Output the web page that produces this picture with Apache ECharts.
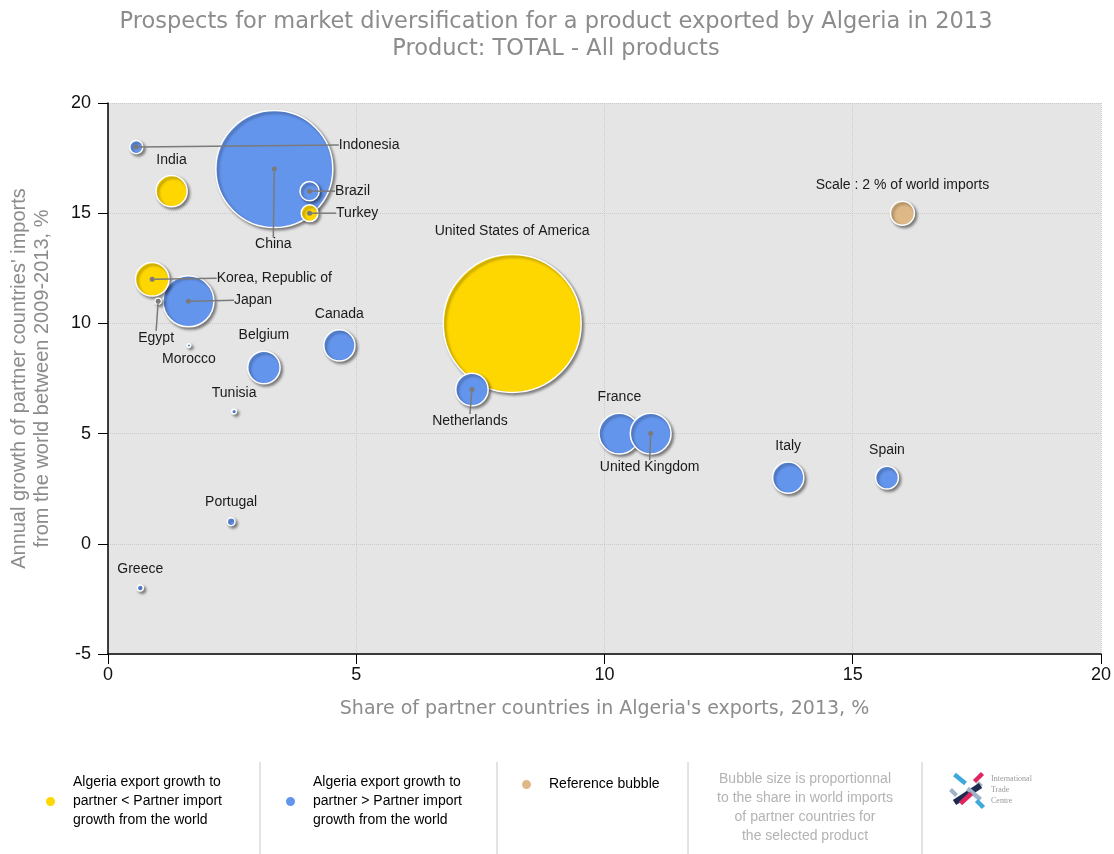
<!DOCTYPE html>
<html>
<head>
<meta charset="utf-8">
<title>Prospects for market diversification - Algeria 2013</title>
<script src="https://cdn.jsdelivr.net/npm/echarts@6/dist/echarts.min.js"></script>
<style>
  html, body { margin: 0; padding: 0; background: #fff; }
  #chart { width: 1114px; height: 854px; }
</style>
</head>
<body>
<div id="chart"></div>
<script>
// partner countries
const countries = ['India', 'Turkey', 'Korea, Republic of', 'United States of America', 'Indonesia', 'China', 'Brazil', 'Japan', 'Egypt', 'Morocco',
  'Belgium', 'Canada', 'Tunisia', 'Portugal', 'Greece', 'Netherlands', 'France', 'United Kingdom', 'Italy', 'Spain'];
// share of partner in Algeria's exports, 2013, %
const exportShare = [1.28, 4.06, 0.89, 8.14, 0.57, 3.35, 4.06, 1.62, 1.01, 1.63,
  3.14, 4.66, 2.54, 2.48, 0.65, 7.33, 10.3, 10.93, 13.7, 15.69];
// annual growth of partner imports from the world 2009-2013, %
const importGrowth = [16, 15, 12, 10, 18, 17, 16, 11, 11, 9,
  8, 9, 6, 1, -2, 7, 5, 5, 3, 3];
// share of partner in world imports, % (bubble size)
const worldImportShare = [2.6, 1.4, 2.8, 11.5, 1.1, 9.75, 1.6, 4.25, 0.5, 0.3,
  2.7, 2.6, 0.4, 0.65, 0.5, 2.7, 3.4, 3.4, 2.6, 1.9];
// lower: Algeria export growth to partner < partner import growth
const growthGroup = ['lower', 'lower', 'lower', 'lower', 'higher', 'higher', 'higher', 'higher', 'higher', 'higher',
  'higher', 'higher', 'higher', 'higher', 'higher', 'higher', 'higher', 'higher', 'higher', 'higher'];

// reference bubble
const refPoint = [16, 15];
const refShare = 2;
const refLabel = 'Scale : 2 % of world imports';

// axes
const xMin = 0, xMax = 20, xStep = 5;
const yMin = -5, yMax = 20, yStep = 5;

const legendText = {
  lower: 'Algeria export growth to\npartner < Partner import\ngrowth from the world',
  higher: 'Algeria export growth to\npartner > Partner import\ngrowth from the world',
  reference: 'Reference bubble'
};

const colors = { lower: '#FFD700', higher: '#6495ED', reference: '#DEB887' };
const SIZE_PER_PCT = 12; // bubble diameter (px) for 1 % of world imports

// labels joined to the bubble centre by a line
const leader = {
  'Indonesia': { position: 'right', dx: 195, dy: -2 },
  'China': { position: 'bottom', dx: -1, dy: 61 },
  'Brazil': { position: 'right', dx: 18, dy: 0 },
  'Turkey': { position: 'right', dx: 19, dy: 0 },
  'Korea, Republic of': { position: 'right', dx: 57, dy: -1 },
  'Japan': { position: 'right', dx: 38, dy: -1 },
  'Egypt': { position: 'bottom', dx: -2, dy: 22 },
  'Netherlands': { position: 'bottom', dx: -2, dy: 17 },
  'United Kingdom': { position: 'bottom', dx: -1, dy: 19 }
};
const leaderNames = Object.keys(leader);
// other label tweaks
const labelTweak = {
  'Morocco': { position: 'bottom', distance: 4 },
  'United States of America': { distance: 16 }
};

const labelFont = { fontSize: 14, color: '#1a1a1a', fontFamily: 'Liberation Sans' };
const bubbleStyle = { opacity: 1, borderColor: '#fff', borderWidth: 1.5, shadowColor: 'rgba(0,0,0,0.45)', shadowBlur: 3, shadowOffsetX: 2, shadowOffsetY: 2 };

// big bubbles first so the small ones stay visible
const order = countries.map((c, i) => i).sort((a, b) => worldImportShare[b] - worldImportShare[a]);

let myChart = echarts.init(document.getElementById('chart'));
myChart.setOption({
  backgroundColor: '#fff',
  animation: false,
  title: {
    text: 'Prospects for market diversification for a product exported by Algeria in 2013\nProduct: TOTAL - All products',
    left: 551,
    top: 4,
    textAlign: 'center',
    textStyle: { fontSize: 22.5, fontWeight: 'normal', color: '#8c8c8c', lineHeight: 27, fontFamily: 'DejaVu Sans' }
  },
  grid: { left: 107, right: 13, top: 103, bottom: 200, show: true, backgroundColor: '#e5e5e5', borderWidth: 0 },
  legend: [
    { data: ['lower'], left: 39, top: 768 },
    { data: ['higher'], left: 279, top: 768 },
    { data: ['reference'], left: 515, top: 770 }
  ].map(l => Object.assign(l, {
    icon: 'circle', itemWidth: 11, itemHeight: 11, selectedMode: false,
    formatter: name => legendText[name],
    textStyle: { fontSize: 14, lineHeight: 19, color: '#000', fontFamily: 'Liberation Sans', padding: [0, 0, 0, 12] }
  })),
  xAxis: {
    type: 'value', min: xMin, max: xMax, interval: xStep,
    name: "Share of partner countries in Algeria's exports, 2013, %",
    nameLocation: 'middle', nameGap: 46,
    nameTextStyle: { fontSize: 19, color: '#8c8c8c', fontFamily: 'DejaVu Sans' },
    axisLine: { show: true, onZero: false, lineStyle: { color: '#000', width: 1.5 } },
    axisTick: { show: true, length: 10, lineStyle: { color: '#000' } },
    axisLabel: { margin: 12, fontSize: 18, color: '#111', fontFamily: 'Liberation Sans' },
    splitLine: { show: true, lineStyle: { type: 'dotted', color: '#cbcbcb' } }
  },
  yAxis: {
    type: 'value', min: yMin, max: yMax, interval: yStep,
    name: "Annual growth of partner countries' imports\nfrom the world between 2009-2013, %",
    nameLocation: 'middle', nameGap: 54,
    nameTextStyle: { fontSize: 20, lineHeight: 23, color: '#8c8c8c', fontFamily: 'Liberation Sans' },
    axisLine: { show: true, onZero: false, lineStyle: { color: '#000', width: 1.5 } },
    axisTick: { show: true, length: 10, lineStyle: { color: '#000' } },
    axisLabel: { margin: 17, fontSize: 18, color: '#111', fontFamily: 'Liberation Sans' },
    splitLine: { show: true, lineStyle: { type: 'dotted', color: '#cbcbcb' } }
  },
  series: [
    // legend entries
    { name: 'lower', type: 'scatter', data: [], itemStyle: Object.assign({ color: colors.lower }, bubbleStyle) },
    { name: 'higher', type: 'scatter', data: [], itemStyle: Object.assign({ color: colors.higher }, bubbleStyle) },
    {
      name: 'bubbles',
      type: 'scatter',
      z: 3,
      symbolSize: val => val[2] * SIZE_PER_PCT,
      itemStyle: Object.assign({
        color: p => colors[p.data.group]
      }, bubbleStyle),
      label: Object.assign({
        show: true, position: 'top', distance: 8,
        formatter: p => leader[p.name] ? '' : p.name
      }, labelFont),
      data: order.map(i => ({
        name: countries[i],
        group: growthGroup[i],
        value: [exportShare[i], importGrowth[i], worldImportShare[i]],
        label: labelTweak[countries[i]] || {}
      })),
      silent: true
    },
    {
      name: 'reference',
      type: 'scatter',
      z: 3,
      symbolSize: val => val[2] * SIZE_PER_PCT,
      itemStyle: Object.assign({ color: colors.reference }, bubbleStyle),
      label: Object.assign({ show: true, position: 'top', distance: 8, formatter: refLabel }, labelFont),
      data: [[refPoint[0], refPoint[1], refShare]],
      silent: true
    },
    {
      name: 'pointers',
      type: 'scatter',
      z: 5,
      symbolSize: 5,
      itemStyle: { color: '#7a7a7a', opacity: 1 },
      label: Object.assign({ show: true, formatter: '{b}' }, labelFont),
      labelLine: { show: true, lineStyle: { color: '#7a7a7a', width: 1.5 } },
      labelLayout: p => ({ dx: leader[leaderNames[p.dataIndex]].dx, dy: leader[leaderNames[p.dataIndex]].dy }),
      data: leaderNames.map(n => {
        let i = countries.indexOf(n);
        return { name: n, value: [exportShare[i], importGrowth[i]], label: { position: leader[n].position } };
      }),
      silent: true
    }
  ],
  graphic: [
    // separators of the bottom panel
    ...[260, 497, 688, 922].map(x => ({
      type: 'line', shape: { x1: x, y1: 762, x2: x, y2: 854 }, style: { stroke: '#c8c8c8', lineWidth: 1 }
    })),
    {
      type: 'text', x: 805, y: 770,
      style: {
        text: 'Bubble size is proportionnal\nto the share in world imports\nof partner countries for\nthe selected product',
        fill: '#b3b3b3', fontSize: 14, lineHeight: 19, fontFamily: 'Liberation Sans', textAlign: 'center'
      }
    },
    // ITC logo, rough
    {
      type: 'group', left: 948, top: 771,
      children: [
        { type: 'line', shape: { x1: 6, y1: 4, x2: 17, y2: 13 }, style: { stroke: '#3fa9dc', lineWidth: 4.5 } },
        { type: 'line', shape: { x1: 34, y1: 3, x2: 26, y2: 11 }, style: { stroke: '#e0245e', lineWidth: 4.5 } },
        { type: 'line', shape: { x1: 29, y1: 12, x2: 33, y2: 16 }, style: { stroke: '#aab8c8', lineWidth: 4 } },
        { type: 'line', shape: { x1: 32, y1: 15, x2: 6, y2: 32 }, style: { stroke: '#1c2b4f', lineWidth: 6 } },
        { type: 'line', shape: { x1: 19, y1: 18, x2: 32, y2: 29 }, style: { stroke: '#9fb3c8', lineWidth: 4.5 } },
        { type: 'line', shape: { x1: 23, y1: 23, x2: 12, y2: 33 }, style: { stroke: '#e0245e', lineWidth: 4.5 } },
        { type: 'line', shape: { x1: 28, y1: 30, x2: 35, y2: 37 }, style: { stroke: '#3fa9dc', lineWidth: 4.5 } },
        { type: 'line', shape: { x1: 2, y1: 19, x2: 8, y2: 25 }, style: { stroke: '#9fb3c8', lineWidth: 4 } }
      ]
    },
    {
      type: 'text', left: 991, top: 773,
      style: { text: 'International\nTrade\nCentre', fill: '#9a9a9a', fontSize: 8, lineHeight: 11, fontFamily: 'Liberation Serif' }
    }
  ]
});
</script>
</body>
</html>
